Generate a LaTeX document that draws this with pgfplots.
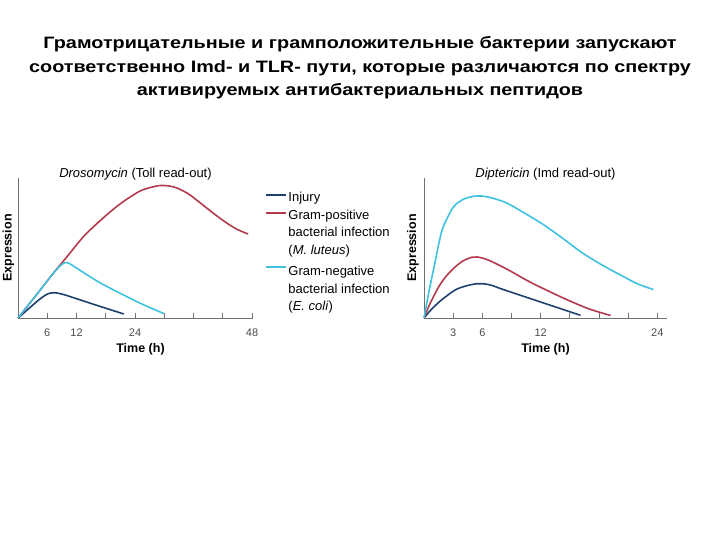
\documentclass[border=0pt]{standalone}
\usepackage{fontspec}
\setmainfont{Liberation Sans}
\newfontfamily\titlefont[FakeStretch=1.2]{Liberation Sans}
\usepackage{pgfplots}
\pgfplotsset{compat=1.18}
\definecolor{injury}{HTML}{1F3F6E}
\definecolor{grampos}{HTML}{B33A4C}
\definecolor{gramneg}{HTML}{3EC1DF}
\definecolor{axisgray}{HTML}{707070}

\pgfplotsset{
  panel/.style={
    scale only axis,
    height=140bp,
    axis x line=bottom,
    axis y line=left,
    axis line style={axisgray, line width=0.9bp, -},
    ymin=0, ymax=140,
    ytick=\empty,
    tick align=inside,
    major tick length=5bp,
    tick style={axisgray, line width=0.9bp},
    xticklabel style={font=\fontsize{11bp}{13bp}\selectfont, text=black!70,
      anchor=center, yshift=-14.5bp},
    xlabel={\textbf{Time (h)}},
    ylabel={\textbf{Expression}},
    label style={font=\fontsize{12.5bp}{14bp}\selectfont},
    xlabel style={at={(axis description cs:0.5,0)}, anchor=center, yshift=-31.5bp},
    ylabel style={at={(axis description cs:0,0.5)}, anchor=center, yshift=11bp},
    title style={at={(axis description cs:0.5,1)}, anchor=center, yshift=-2.2bp,
      font=\fontsize{13bp}{15bp}\selectfont},
    every axis plot/.append style={line width=1.6bp, smooth, no markers},
    clip=false,
  },
}

\begin{document}
\begin{tikzpicture}
  \useasboundingbox (0,0) rectangle (720bp,540bp);

  \node[anchor=center, align=center,
        font=\titlefont\bfseries\fontsize{16.5bp}{23.5bp}\selectfont]
    at (360bp,472bp)
    {Грамотрицательные и грамположительные бактерии запускают\\
     соответственно Imd- и TLR- пути, которые различаются по спектру\\
     активируемых антибактериальных пептидов};

  % Drosomycin (Toll)
  \begin{axis}[panel,
    at={(18bp,222bp)}, anchor=south west,
    width=235bp,
    xmin=0, xmax=48.2,
    xtick={6,12,18,24,30,36,42,48},
    xticklabels={6,12,,24,,,,48},
    title={\textit{Drosomycin} (Toll read-out)},
    xlabel style={xshift=5bp},
    ylabel style={yshift=-1.5bp},
    legend cell align=left,
    legend style={at={(axis description cs:1.051,0.906)}, anchor=north west,
      draw=none, fill=none, inner sep=0pt, row sep=3bp, column sep=0bp,
      font=\fontsize{13bp}{15bp}\selectfont,
      nodes={inner xsep=1.5bp, inner ysep=1bp, text height=9.5bp, text depth=3bp}},
    legend image code/.code={\draw[#1] (0bp,3.5bp) -- (20bp,3.5bp);},
  ]
    \addplot[injury, forget plot] coordinates {(0,0) (2,8.5) (4,17) (5.5,22.5)
      (6.5,24.8) (7.3,25.3) (8.2,24.8) (10,22.5) (15,14.5) (21.7,4)};
    \addplot[grampos, forget plot] coordinates {(0,0) (4,24.5) (7.2,44.5) (10,61)
      (13.5,81.7) (17,98) (20.3,111.7) (23,121) (25.5,128) (28.8,132.3) (31,132)
      (32.6,130) (35,124) (37.4,115) (40,105) (42.8,95) (45,88.5) (47.2,84)};
    \addplot[gramneg, forget plot] coordinates {(0,0) (4,24.5) (7.2,44.5)
      (8.5,51.5) (9.6,55.3) (10.5,54.5) (12,50) (16.9,35) (23.7,18) (27,10.5)
      (29.9,4.5)};

    \addlegendimage{injury, line width=1.8bp}
    \addlegendentry{Injury}
    \addlegendimage{grampos, line width=1.8bp}
    \addlegendentry{Gram-positive}
    \addlegendimage{empty legend}
    \addlegendentry{bacterial infection}
    \addlegendimage{empty legend}
    \addlegendentry{(\textit{M. luteus})}
    \addlegendimage{gramneg, line width=1.8bp}
    \addlegendentry[text height=13.5bp]{Gram-negative}
    \addlegendimage{empty legend}
    \addlegendentry{bacterial infection}
    \addlegendimage{empty legend}
    \addlegendentry{(\textit{E. coli})}
  \end{axis}

  % Diptericin (Imd)
  \begin{axis}[panel,
    at={(424bp,222bp)}, anchor=south west,
    width=243bp,
    xmin=0, xmax=25,
    xtick={3,6,9,12,15,18,21,24},
    xticklabels={3,6,,12,,,,24},
    title={\textit{Diptericin} (Imd read-out)},
  ]
    \addplot[injury] coordinates {(0,0) (0.8,9) (1.8,18) (3.2,28) (4.3,32)
      (5.4,34.2) (6.3,34) (7,32.5) (8,29) (10,22.5) (12,16) (14,9.5) (16.1,2.7)};
    \addplot[grampos] coordinates {(0,0) (0.6,14) (1.5,31) (2.3,42) (3.2,51)
      (4,57) (4.9,60.7) (5.5,61) (6.6,58) (8.5,49) (10.8,36.5) (13,26)
      (14.9,17.5) (17,9) (19.2,2.5)};
    \addplot[gramneg] coordinates {(0,0) (0.5,26) (1.1,54) (1.8,86) (2.5,102)
      (3.1,112) (4,118.5) (5,121.5) (5.9,122) (7,120) (8.5,115) (10.5,104)
      (12.5,92) (14.5,78) (16.3,65) (18.5,52) (20.4,42) (22,34) (23.6,28.5)};
  \end{axis}
\end{tikzpicture}
\end{document}
